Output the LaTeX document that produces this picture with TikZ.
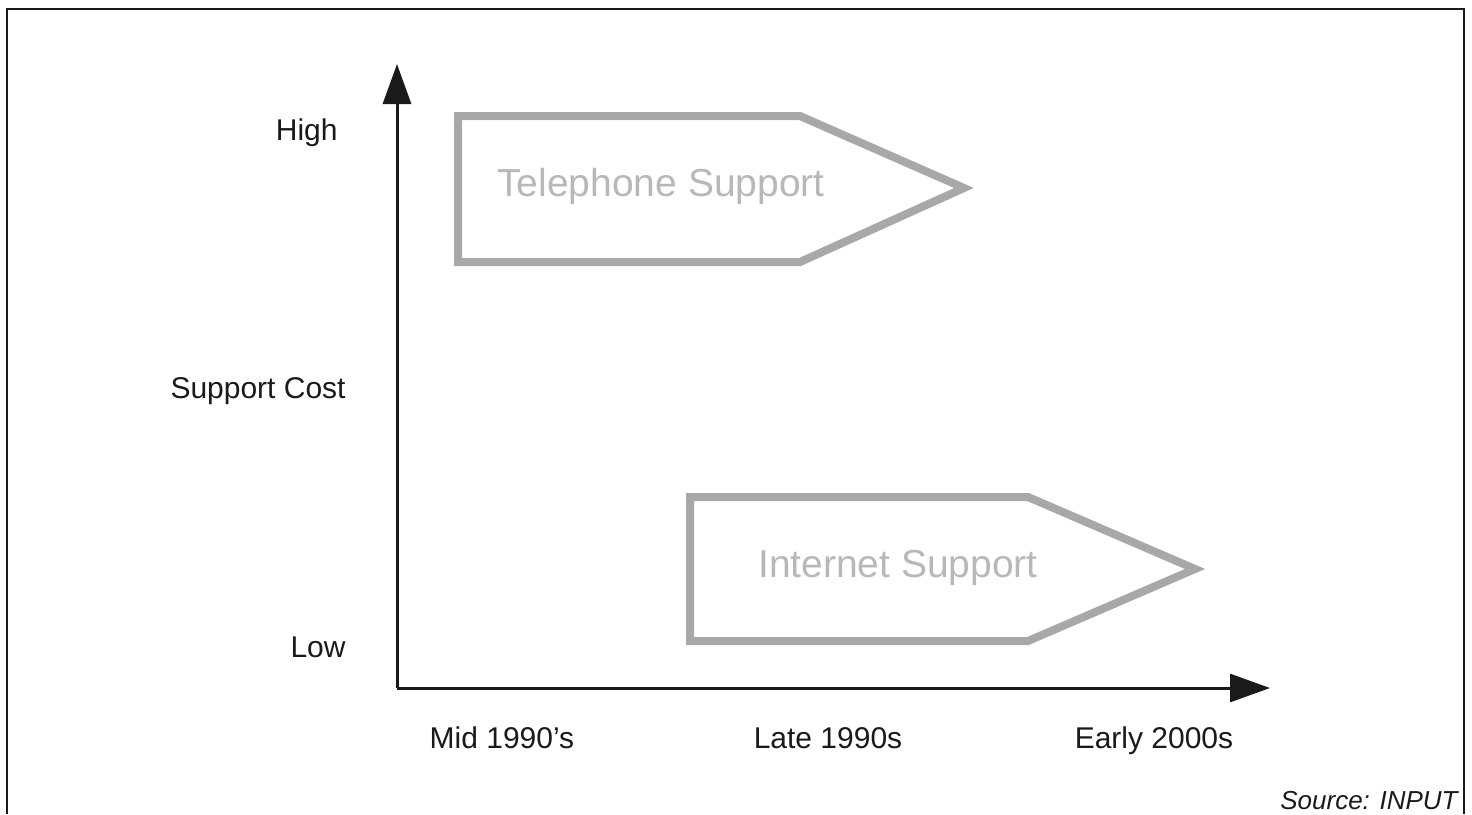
\documentclass[tikz,border=0pt]{standalone}
\usepackage{fontspec}
\setmainfont{Liberation Sans}
\usepackage{tikz}
\usetikzlibrary{arrows.meta,positioning,calc}
\definecolor{CostInk}{HTML}{1A1A1A}
\definecolor{CostShade}{HTML}{A8A8A8}
\definecolor{CostText}{HTML}{B8B8B8}

\begin{document}
\begin{tikzpicture}[x=0.5pt, y=-0.5pt,
  lbl/.style={font=\fontsize{15}{18}\selectfont, text=CostInk, inner sep=0pt},
  axis/.style={draw=CostInk, line width=1.5pt, -{Triangle[length=20pt, width=14pt]}},
  band/.style={draw=CostShade, line width=4pt, line join=miter, fill=white},
  bandtxt/.style={font=\fontsize{19.5}{22}\selectfont, text=CostText, inner sep=0pt, anchor=base}]
  \useasboundingbox (0,0) rectangle (1472,814);
  \fill[white] (0,0) rectangle (1472,814);
  % open frame
  \draw[CostInk, line width=1pt] (7,814) -- (7,9) -- (1464,9) -- (1464,814);

  % axes
  \coordinate (o) at (397,688);
  \coordinate (ytop) at (397,64);
  \coordinate (xend) at (1270,688);
  \draw[axis] (o) -- (ytop);
  \draw[axis] (o) -- (xend);

  \node[lbl, anchor=base east] (high) at (338,140) {High};
  \node[lbl, anchor=base east] (cost) at (346,398) {Support Cost};
  \node[lbl, anchor=base east] (low) at (346,657) {Low};

  \node[lbl, anchor=base] (mid) at (502,748) {Mid 1990’s};
  \node[lbl, anchor=base] (late) at (828,748) {Late 1990s};
  \node[lbl, anchor=base] (early) at (1154,748) {Early 2000s};

  % pointed bands
  \draw[band] (458,116) -- (800,116) -- (964,188) -- (800,262) -- (458,262) -- cycle;
  \node[bandtxt] (phone) at (661,196) {Telephone Support};
  \draw[band] (690,497) -- (1028,497) -- (1195,569) -- (1028,641) -- (690,641) -- cycle;
  \node[bandtxt] (web) at (898,577) {Internet Support};

  \node[lbl, anchor=base east, font=\fontsize{13}{16}\selectfont\itshape] (src) at (1458,809) {Source: INPUT};
\end{tikzpicture}
\end{document}
